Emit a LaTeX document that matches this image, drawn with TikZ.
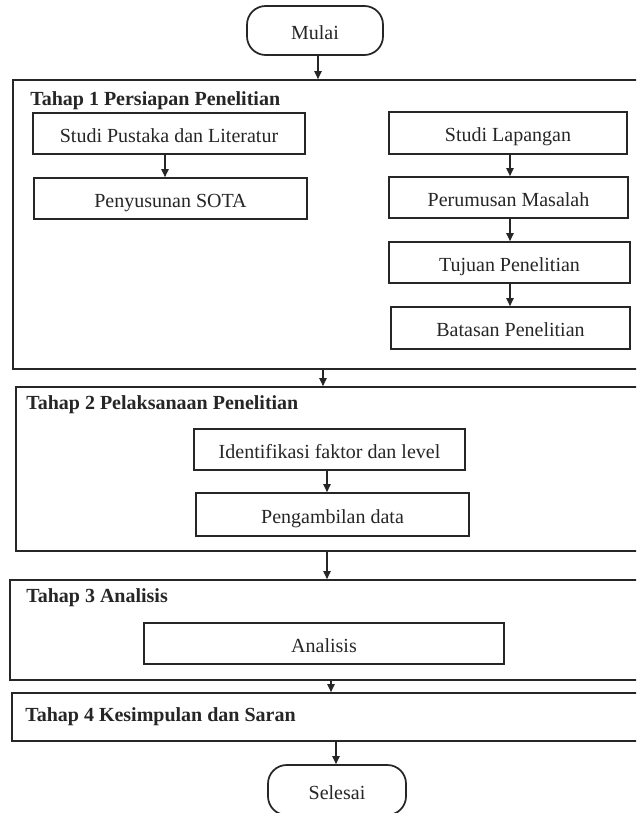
\documentclass[tikz,border=0pt]{standalone}
\usepackage{fontspec}
\setmainfont{Liberation Serif}
\usetikzlibrary{arrows.meta,fit}
\definecolor{ink}{HTML}{262626}
\tikzset{
  box/.style={draw=ink, line width=1.3pt, inner sep=0pt},
  term/.style={box, rounded corners=14pt},
  lbl/.style={anchor=base, yshift=-6.4pt, inner sep=0pt, text=ink,
    font=\fontsize{15pt}{17pt}\selectfont},
  title/.style={anchor=base west, inner sep=0pt, text=ink,
    font=\fontsize{15pt}{17pt}\selectfont\bfseries},
  arr/.style={draw=ink, line width=1pt, -{Triangle[length=6pt,width=5.5pt]}}
}
\begin{document}
\begin{tikzpicture}[x=0.75pt,y=-0.75pt]
\clip (0,0) rectangle (636,813);
\fill[white] (0,0) rectangle (636,813);
% terminals
\node[term, fit={(247,6) (383,55)}] (mulai) {};
\node[lbl] (lmulai) at (mulai.center) {Mulai};
\node[term, fit={(268,765) (406,815)}] (selesai) {};
\node[lbl] (lselesai) at ([yshift=-1pt]selesai.center) {Selesai};
% stage boxes
\node[box, fit={(13,80) (645,369)}] (st1) {};
\node[box, fit={(16,387) (645,551)}] (st2) {};
\node[box, fit={(10,580) (645,680)}] (st3) {};
\node[box, fit={(12,693) (645,741)}] (st4) {};
% titles
\node[title] (t1) at (30,106) {Tahap 1 Persiapan Penelitian};
\node[title] (t2) at (26,409) {Tahap 2 Pelaksanaan Penelitian};
\node[title] (t3) at (26,602) {Tahap 3 Analisis};
\node[title] (t4) at (25,721) {Tahap 4 Kesimpulan dan Saran};
% stage 1 boxes
\node[box, fit={(33,113) (305,154)}] (sp) {};
\node[lbl] at (sp.center) {Studi Pustaka dan Literatur};
\node[box, fit={(34,178) (307,219)}] (sota) {};
\node[lbl] at (sota.center) {Penyusunan SOTA};
\node[box, fit={(389,112) (627,154)}] (sl) {};
\node[lbl] at (sl.center) {Studi Lapangan};
\node[box, fit={(389,177) (628,218)}] (pm) {};
\node[lbl] at (pm.center) {Perumusan Masalah};
\node[box, fit={(389,242) (630,283)}] (tp) {};
\node[lbl] at (tp.center) {Tujuan Penelitian};
\node[box, fit={(391,307) (630,349)}] (bp) {};
\node[lbl] at (bp.center) {Batasan Penelitian};
% stage 2 boxes
\node[box, fit={(194,429) (465,470)}] (id) {};
\node[lbl] at (id.center) {Identifikasi faktor dan level};
\node[box, fit={(196,493) (469,536)}] (pd) {};
\node[lbl] at (pd.center) {Pengambilan data};
% stage 3 box
\node[box, fit={(144,623) (504,664)}] (an) {};
\node[lbl] at (an.center) {Analisis};
% arrow columns
\coordinate (c0) at (318,0);
\coordinate (c1) at (323,0);
\coordinate (c2) at (327,0);
\coordinate (c3) at (331,0);
\coordinate (c4) at (336,0);
\coordinate (cl) at (165,0);
\coordinate (cr) at (510,0);
\coordinate (cm) at (327,0);
% connectors
\draw[arr] (mulai.south -| c0) -- (st1.north -| c0);
\draw[arr] (st1.south -| c1) -- (st2.north -| c1);
\draw[arr] (st2.south -| c2) -- (st3.north -| c2);
\draw[arr] (st3.south -| c3) -- (st4.north -| c3);
\draw[arr] (st4.south -| c4) -- (selesai.north -| c4);
\draw[arr] (sp.south -| cl) -- (sota.north -| cl);
\draw[arr] (sl.south -| cr) -- (pm.north -| cr);
\draw[arr] (pm.south -| cr) -- (tp.north -| cr);
\draw[arr] (tp.south -| cr) -- (bp.north -| cr);
\draw[arr] (id.south -| cm) -- (pd.north -| cm);
\end{tikzpicture}
\end{document}
